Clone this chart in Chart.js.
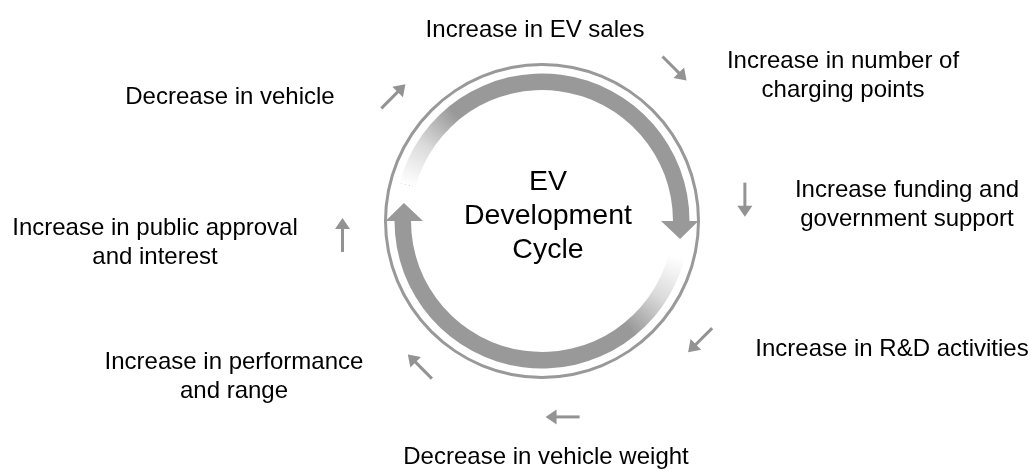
<!DOCTYPE html>
<html>
<head>
<meta charset="utf-8">
<script src="https://cdn.jsdelivr.net/npm/chart.js@4"></script>
<style>
  html, body { margin: 0; padding: 0; background: #fff; }
  #wrap { width: 1029px; height: 469px; }
</style>
</head>
<body>
<div id="wrap"><canvas id="chart" width="1029" height="469"></canvas></div>
<script>
// ===== DATA =====
const title = ["EV", "Development", "Cycle"];

const steps = [
  ["Increase in EV sales"],
  ["Increase in number of", "charging points"],
  ["Increase funding and", "government support"],
  ["Increase in R&D activities"],
  ["Decrease in vehicle weight"],
  ["Increase in performance", "and range"],
  ["Increase in public approval", "and interest"],
  ["Decrease in vehicle"]
];

// cycle band: degrees clockwise, starting at cycleStart (0 = top)
const cycleStart = 285;
const cycleArcs = [165, 15, 165, 15];   // arrow, gap, arrow, gap

// small arrows round the circle: where they sit (bearing) and where they point
const arrowBearings = [41, 84, 127, 174, 220, 266, 310];
const arrowDirections = [135, 180, 225, 270, 315, 0, 45];

// ===== LAYOUT (pixels, relative to circle centre) =====
const labelOffsets = [
  [-7, -193], [301, -147], [365, -18], [350, 126],
  [4, 234], [-308, 154], [-387, 20], [-312, -126]
];
const arrowRadius = [202, 204, 198, 197, 190, 200, 194];

const GREY = "#999999";
const ARROW_GREY = "#939393";
const FONT = "'Liberation Sans', Arial, sans-serif";

// ===== HELPERS =====
function bandColor(c) {
  const area = c.chart.chartArea;
  if (!area) return GREY;
  const cx = (area.left + area.right) / 2;
  const cy = (area.top + area.bottom) / 2;
  const g = c.chart.ctx.createConicGradient((cycleStart - 90) * Math.PI / 180, cx, cy);
  g.addColorStop(0, "#ffffff");
  g.addColorStop(0.05, "#dadada");
  g.addColorStop(0.1, GREY);
  g.addColorStop(0.49, GREY);
  g.addColorStop(0.5, "#ffffff");
  g.addColorStop(0.55, "#dadada");
  g.addColorStop(0.6, GREY);
  g.addColorStop(1, GREY);
  return g;
}

function drawHead(ctx, arc) {
  const rIn = arc.innerRadius - 12;
  const rOut = arc.outerRadius + 9;
  const rMid = (arc.innerRadius + arc.outerRadius) / 2;
  const a = arc.endAngle;
  const tipA = a + 18 / rMid;
  ctx.beginPath();
  ctx.moveTo(arc.x + rIn * Math.cos(a), arc.y + rIn * Math.sin(a));
  ctx.lineTo(arc.x + rOut * Math.cos(a), arc.y + rOut * Math.sin(a));
  ctx.lineTo(arc.x + rMid * Math.cos(tipA), arc.y + rMid * Math.sin(tipA));
  ctx.closePath();
  ctx.fill();
}

function drawSmallArrow(ctx, x, y, dirDeg) {
  const d = dirDeg * Math.PI / 180;
  const ux = Math.sin(d), uy = -Math.cos(d);
  const px = -uy, py = ux;
  const half = 17;
  const tx = x + ux * half, ty = y + uy * half;
  ctx.lineWidth = 3;
  ctx.beginPath();
  ctx.moveTo(x - ux * half, y - uy * half);
  ctx.lineTo(tx - ux * 8, ty - uy * 8);
  ctx.stroke();
  ctx.beginPath();
  ctx.moveTo(tx, ty);
  ctx.lineTo(tx - ux * 11 + px * 7.5, ty - uy * 11 + py * 7.5);
  ctx.lineTo(tx - ux * 11 - px * 7.5, ty - uy * 11 - py * 7.5);
  ctx.closePath();
  ctx.fill();
}

function drawLines(ctx, lines, x, y, size, lh) {
  ctx.font = size + "px " + FONT;
  const top = y - (lines.length - 1) * lh / 2;
  lines.forEach((t, i) => {
    ctx.fillText(t, x, top + i * lh + size * 0.358);
  });
}

// ===== PLUGIN =====
const cyclePlugin = {
  id: "cycle",
  afterDatasetsDraw(chart) {
    const ctx = chart.ctx;
    const arcs = chart.getDatasetMeta(2).data;
    const cx = arcs[0].x, cy = arcs[0].y;

    ctx.save();
    ctx.fillStyle = GREY;
    drawHead(ctx, arcs[0]);
    drawHead(ctx, arcs[2]);

    ctx.strokeStyle = ARROW_GREY;
    ctx.fillStyle = ARROW_GREY;
    arrowBearings.forEach((b, i) => {
      const r = b * Math.PI / 180;
      const x = cx + arrowRadius[i] * Math.sin(r);
      const y = cy - arrowRadius[i] * Math.cos(r);
      drawSmallArrow(ctx, x, y, arrowDirections[i]);
    });

    ctx.fillStyle = "#000";
    ctx.textAlign = "center";
    ctx.textBaseline = "alphabetic";
    drawLines(ctx, title, cx + 6, cy - 7, 28.5, 34);
    steps.forEach((lines, i) => {
      drawLines(ctx, lines, cx + labelOffsets[i][0], cy + labelOffsets[i][1], 24, 28.5);
    });
    ctx.restore();
  }
};

// ===== CHART =====
const canvas = document.getElementById("chart");
const chart = new Chart(canvas.getContext("2d"), {
  type: "doughnut",
  data: {
    datasets: [
      { data: [360], backgroundColor: GREY, weight: 3 },
      { data: [360], backgroundColor: "rgba(0,0,0,0)", weight: 7.5 },
      {
        data: cycleArcs,
        rotation: cycleStart,
        backgroundColor: (c) => (c.dataIndex % 2 === 0 ? bandColor(c) : "rgba(0,0,0,0)"),
        weight: 16.5
      }
    ]
  },
  options: {
    responsive: false,
    animation: false,
    events: [],
    cutout: "82.9%",
    elements: { arc: { borderWidth: 0, hoverOffset: 0 } },
    layout: { padding: { left: 384, right: 329, top: 63, bottom: 90 } },
    plugins: {
      legend: { display: false },
      tooltip: { enabled: false }
    }
  },
  plugins: [cyclePlugin]
});
</script>
</body>
</html>
